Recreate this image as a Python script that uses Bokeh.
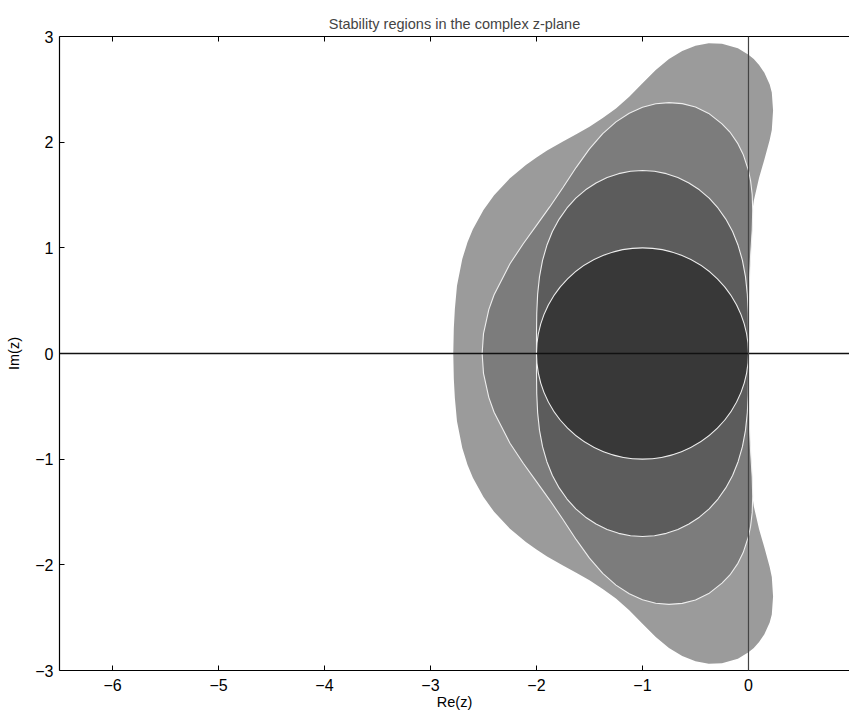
from bokeh.plotting import figure
from bokeh.models import Span, FixedTicker, LinearAxis, Range1d
from bokeh.embed import file_html
from bokeh.resources import INLINE

# Upper-half boundary points (Re, Im) of each stability region
rk4_re = [-2.785, -2.78, -2.77, -2.75, -2.7, -2.65, -2.6, -2.5, -2.4, -2.25, -2.1, -2.0,
          -1.9, -1.75, -1.625, -1.5, -1.375, -1.25, -1.125, -1.0, -0.875, -0.75, -0.625,
          -0.5, -0.375, -0.25, -0.1, 0.0, 0.05, 0.1, 0.15, 0.2, 0.22, 0.232, 0.22, 0.2,
          0.15, 0.1, 0.05, 0.02, 0.007, 0.002, 0.0, 0.0]
rk4_im = [0.0, 0.24, 0.42, 0.641, 0.895, 1.055, 1.176, 1.359, 1.498, 1.659, 1.785, 1.856,
          1.920, 2.007, 2.076, 2.147, 2.229, 2.319, 2.430, 2.557, 2.682, 2.786, 2.863,
          2.912, 2.935, 2.932, 2.888, 2.828, 2.786, 2.731, 2.657, 2.545, 2.471, 2.3, 2.116, 2.02,
          1.836, 1.664, 1.446, 1.225, 1.0, 0.8, 0.5, 0.0]

rk3_re = [-2.5127, -2.5, -2.45, -2.4, -2.25, -2.125, -2.0, -1.875, -1.75, -1.625, -1.5,
          -1.375, -1.25, -1.125, -1.0, -0.875, -0.75, -0.625, -0.5, -0.375, -0.25, -0.175,
          -0.1, -0.05, 0.0, 0.02, 0.035, 0.04, 0.035, 0.02, 0.01, 0.003, 0.0]
rk3_im = [0.0, 0.188, 0.415, 0.556, 0.849, 1.039, 1.213, 1.387, 1.571, 1.762, 1.936,
          2.081, 2.192, 2.274, 2.330, 2.363, 2.374, 2.365, 2.332, 2.272, 2.173, 2.096,
          1.986, 1.884, 1.732, 1.634, 1.506, 1.35, 1.167, 0.924, 0.72, 0.5, 0.0]

rk2_re = [-2.0, -1.9998, -1.9975, -1.9891, -1.9715, -1.9429, -1.902, -1.850, -1.786,
          -1.712, -1.629, -1.5368, -1.438, -1.3336, -1.225, -1.1131, -1.0, -0.8869, -0.775,
          -0.6664, -0.562, -0.4632, -0.371, -0.288, -0.214, -0.150, -0.098, -0.0571,
          -0.0285, -0.0109, -0.0025, -0.0002, 0.0]
rk2_im = [0.0, 0.195, 0.384, 0.5617, 0.728, 0.8818, 1.024, 1.154, 1.272,
          1.3774, 1.470, 1.549, 1.614, 1.6656, 1.702, 1.7246, 1.732, 1.7246, 1.702,
          1.6656, 1.614, 1.549, 1.470, 1.3774, 1.272, 1.154, 1.024, 0.8818,
          0.728, 0.5617, 0.384, 0.195, 0.0]

rk1_center_re = [-1.0]
rk1_center_im = [0.0]
rk1_diameter = [2.0]

x_ticks = [-6, -5, -4, -3, -2, -1, 0]
y_ticks = [-3, -2, -1, 0, 1, 2, 3]


def closed(re, im):
    # upper half followed by its mirror image below the real axis
    xs = list(re) + list(reversed(re))[1:-1]
    ys = list(im) + [-v for v in reversed(im)][1:-1]
    return xs, ys


FONT = "Liberation Sans"

p = figure(width=849, height=712, output_backend="svg", toolbar_location=None,
           x_range=Range1d(-6.5, 0.953), y_range=Range1d(-3, 3),
           min_border_left=59, min_border_right=0, min_border_top=36, min_border_bottom=41,
           title="Stability regions in the complex z-plane")
p.grid.visible = False
p.outline_line_color = None
p.background_fill_color = "white"

p.title.align = "center"
p.title.text_font = FONT
p.title.text_font_size = "14.5px"
p.title.text_font_style = "normal"
p.title.offset = 0

fills = ["#9b9b9b", "#7c7c7c", "#5c5c5c"]
for (re, im), col, lc in zip([(rk4_re, rk4_im), (rk3_re, rk3_im), (rk2_re, rk2_im)],
                             fills, [None, "#eeeeee", "#eeeeee"]):
    xs, ys = closed(re, im)
    p.patch(xs, ys, fill_color=col, line_color=lc, line_width=1.1)

p.ellipse(x=rk1_center_re, y=rk1_center_im, width=rk1_diameter, height=rk1_diameter,
          fill_color="#383838", line_color="#eeeeee", line_width=1.1)

p.add_layout(Span(location=0, dimension="width", line_color="#111111", line_width=1.5))
p.add_layout(Span(location=0, dimension="height", line_color="#444444", line_width=1.2))

for ax in [p.xaxis[0], p.yaxis[0]]:
    ax.major_tick_in = 5
    ax.major_tick_out = 0
    ax.minor_tick_line_color = None
    ax.major_label_text_font = FONT
    ax.major_label_text_font_size = "16px"
    ax.major_label_text_color = "black"
    ax.axis_label_text_font = FONT
    ax.axis_label_text_font_size = "14.5px"
    ax.axis_label_text_font_style = "normal"
    ax.axis_label_text_color = "black"
    ax.axis_line_color = "black"
    ax.axis_line_width = 1.2
    ax.major_tick_line_color = "black"

p.xaxis[0].ticker = FixedTicker(ticks=x_ticks)
p.yaxis[0].ticker = FixedTicker(ticks=y_ticks)
p.xaxis[0].axis_label = "Re(z)"
p.yaxis[0].axis_label = "Im(z)"
p.xaxis[0].major_label_standoff = 8
p.xaxis[0].axis_label_standoff = 0
p.yaxis[0].major_label_standoff = 6
p.yaxis[0].axis_label_standoff = 10

# top frame edge with inward ticks (no labels)
top = LinearAxis(ticker=FixedTicker(ticks=[], minor_ticks=x_ticks),
                 major_tick_line_color=None, minor_tick_in=5, minor_tick_out=0,
                 minor_tick_line_color="black",
                 axis_line_color="black", axis_line_width=1.2)
p.add_layout(top, "above")

open("out.html", "w").write(file_html(p, INLINE))
